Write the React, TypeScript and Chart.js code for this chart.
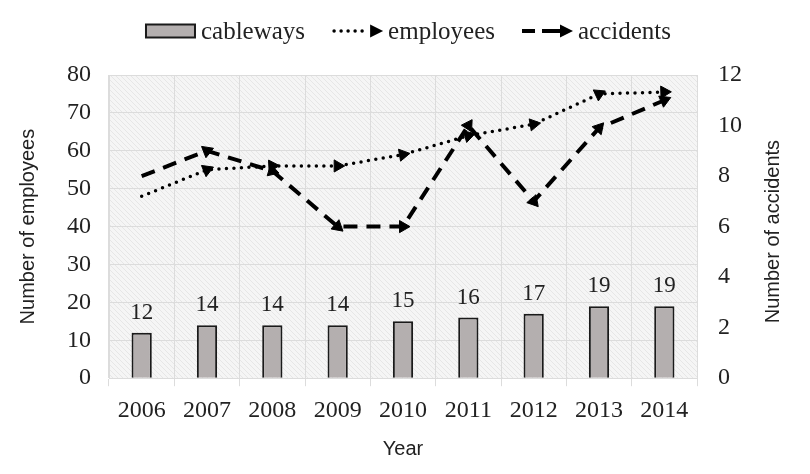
import React, { useEffect, useRef } from "react";
import { Chart, registerables } from "chart.js";

Chart.register(...registerables);

const years = ["2006", "2007", "2008", "2009", "2010", "2011", "2012", "2013", "2014"];
const cableways = [12, 14, 14, 14, 15, 16, 17, 19, 19];
const employees = [48, 55, 56, 56, 59, 64, 67, 75, 75.5];
const accidents = [8, 9, 8.2, 6, 6, 10, 7, 9.9, 11];
const legendNames = ["cableways", "employees", "accidents"];

const SERIF = "'Liberation Serif', 'Times New Roman', serif";
const SANS = "'Liberation Sans', Arial, sans-serif";

function makeHatch(): CanvasPattern | string {
  const c = document.createElement("canvas");
  c.width = 5;
  c.height = 5;
  const g = c.getContext("2d");
  if (!g) return "#f2f2f2";
  g.fillStyle = "#f5f5f5";
  g.fillRect(0, 0, 5, 5);
  g.strokeStyle = "#e6e6e6";
  g.lineWidth = 1;
  g.beginPath();
  g.moveTo(0, 0);
  g.lineTo(5, 5);
  g.moveTo(-2.5, 2.5);
  g.lineTo(2.5, 7.5);
  g.moveTo(2.5, -2.5);
  g.lineTo(7.5, 2.5);
  g.stroke();
  const p = g.createPattern(c, "repeat");
  return p || "#f2f2f2";
}

function arrowHead(g: CanvasRenderingContext2D, tipX: number, cy: number) {
  g.fillStyle = "#000";
  g.beginPath();
  g.moveTo(tipX, cy);
  g.lineTo(tipX - 13, cy - 6.5);
  g.lineTo(tipX - 13, cy + 6.5);
  g.closePath();
  g.fill();
}

function drawIcon(g: CanvasRenderingContext2D, kind: number, x: number, cy: number, w: number) {
  g.save();
  if (kind === 0) {
    g.fillStyle = "#b4afaf";
    g.fillRect(x + 1, cy - 6.5, w - 2, 13);
    g.strokeStyle = "#1a1a1a";
    g.lineWidth = 2;
    g.strokeRect(x + 1, cy - 6.5, w - 2, 13);
  } else if (kind === 1) {
    g.strokeStyle = "#000";
    g.lineWidth = 3.5;
    g.lineCap = "round";
    g.setLineDash([0, 7]);
    g.beginPath();
    g.moveTo(x + 2, cy);
    g.lineTo(x + w - 14, cy);
    g.stroke();
    g.setLineDash([]);
    arrowHead(g, x + w, cy);
  } else {
    g.strokeStyle = "#000";
    g.lineWidth = 4;
    g.beginPath();
    g.moveTo(x, cy);
    g.lineTo(x + 13, cy);
    g.moveTo(x + 20, cy);
    g.lineTo(x + w - 10, cy);
    g.stroke();
    arrowHead(g, x + w, cy);
  }
  g.restore();
}

export default function App() {
  const ref = useRef<HTMLCanvasElement>(null);

  useEffect(() => {
    document.body.style.margin = "0";
    if (!ref.current) return;
    const hatch = makeHatch();

    const rotationFn = (ctx: any) => {
      const i = ctx.dataIndex;
      const chart = ctx.chart;
      const ds = ctx.dataset;
      const xs = chart.scales.x;
      const ys = chart.scales[ds.yAxisID];
      if (!xs || !ys || i === 0) return 0;
      const x0 = xs.getPixelForValue(i - 1);
      const x1 = xs.getPixelForValue(i);
      const y0 = ys.getPixelForValue(ds.data[i - 1]);
      const y1 = ys.getPixelForValue(ds.data[i]);
      const a = Math.atan2(y1 - y0, x1 - x0);
      return (a * 180) / Math.PI + 90;
    };

    const bgPlugin = {
      id: "bgHatch",
      beforeDraw(chart: any) {
        const { ctx, chartArea } = chart;
        ctx.save();
        ctx.fillStyle = hatch;
        ctx.fillRect(chartArea.left, chartArea.top, chartArea.right - chartArea.left, chartArea.bottom - chartArea.top);
        ctx.restore();
      },
    };

    const labelPlugin = {
      id: "barLabels",
      afterDatasetsDraw(chart: any) {
        const meta = chart.getDatasetMeta(0);
        const ctx = chart.ctx;
        ctx.save();
        ctx.font = `23px ${SERIF}`;
        ctx.fillStyle = "#222";
        ctx.textAlign = "center";
        ctx.textBaseline = "alphabetic";
        meta.data.forEach((el: any, i: number) => {
          ctx.fillText(String(cableways[i]), el.x, el.y - 14);
        });
        ctx.restore();
      },
    };

    const extrasPlugin = {
      id: "extras",
      afterDraw(chart: any) {
        const ctx = chart.ctx;
        const area = chart.chartArea;
        // right axis title, reading bottom to top
        ctx.save();
        ctx.font = `20px ${SANS}`;
        ctx.fillStyle = "#222";
        ctx.textAlign = "center";
        ctx.textBaseline = "middle";
        ctx.translate(773, (area.top + area.bottom) / 2 + 5);
        ctx.rotate(-Math.PI / 2);
        ctx.fillText("Number of accidents", 0, 0);
        ctx.restore();

        // legend
        ctx.save();
        ctx.font = `25px ${SERIF}`;
        const iconW = 51;
        const gapIT = 5;
        const gapItems = 27;
        const widths = legendNames.map((t) => ctx.measureText(t).width);
        const total = widths.reduce((a, b) => a + b, 0) + 3 * (iconW + gapIT) + 2 * gapItems;
        let x = 408 - total / 2;
        const cy = 31;
        legendNames.forEach((t, i) => {
          drawIcon(ctx, i, x, cy, iconW);
          x += iconW + gapIT;
          ctx.fillStyle = "#222";
          ctx.textAlign = "left";
          ctx.textBaseline = "middle";
          ctx.fillText(t, x, cy + 1);
          x += widths[i] + gapItems;
        });
        ctx.restore();
      },
    };

    const chart = new Chart(ref.current, {
      type: "bar",
      data: {
        labels: years,
        datasets: [
          {
            type: "bar",
            label: "cableways",
            data: cableways,
            yAxisID: "y",
            backgroundColor: "#b4afaf",
            borderColor: "#1a1a1a",
            borderWidth: 2,
            barPercentage: 0.31,
            categoryPercentage: 1,
            order: 3,
          },
          {
            type: "line",
            label: "employees",
            data: employees,
            yAxisID: "y",
            borderColor: "#000",
            borderWidth: 3.5,
            borderDash: [0, 7.5],
            borderCapStyle: "round",
            pointStyle: "triangle",
            pointRadius: (c: any) => (c.dataIndex === 0 ? 0 : 7),
            pointRotation: rotationFn,
            pointBackgroundColor: "#000",
            pointBorderColor: "#000",
            pointBorderWidth: 1,
            tension: 0,
            fill: false,
            order: 2,
          } as any,
          {
            type: "line",
            label: "accidents",
            data: accidents,
            yAxisID: "y1",
            borderColor: "#000",
            borderWidth: 4,
            borderDash: [14, 9],
            pointStyle: "triangle",
            pointRadius: (c: any) => (c.dataIndex === 0 ? 0 : 7),
            pointRotation: rotationFn,
            pointBackgroundColor: "#000",
            pointBorderColor: "#000",
            pointBorderWidth: 1,
            tension: 0,
            fill: false,
            order: 1,
          } as any,
        ],
      },
      options: {
        animation: false,
        responsive: false,
        maintainAspectRatio: false,
        layout: { padding: { left: 16, right: 47, top: 75, bottom: 13 } },
        plugins: {
          tooltip: { enabled: false },
          legend: { display: false },
        },
        scales: {
          x: {
            offset: true,
            grid: { offset: true, color: "#dcdcdc", tickLength: 8, drawTicks: true },
            border: { color: "#dcdcdc" },
            ticks: { font: { family: SERIF, size: 24 }, color: "#222", padding: 10 },
            title: { display: true, text: "Year", font: { family: SANS, size: 20 }, color: "#222", padding: { top: 2, bottom: 0 } },
          },
          y: {
            position: "left",
            min: 0,
            max: 80,
            ticks: { stepSize: 10, font: { family: SERIF, size: 24 }, color: "#222", padding: 18 },
            grid: { color: "#dcdcdc", drawTicks: false },
            border: { color: "#dcdcdc" },
            title: { display: true, text: "Number of employees", font: { family: SANS, size: 20 }, color: "#222", padding: { top: 0, bottom: 9 } },
          },
          y1: {
            position: "right",
            min: 0,
            max: 12,
            ticks: { stepSize: 2, font: { family: SERIF, size: 24 }, color: "#222", padding: 21 },
            grid: { drawOnChartArea: false, drawTicks: false },
            border: { color: "#dcdcdc" },
          },
        },
      },
      plugins: [bgPlugin, labelPlugin, extrasPlugin],
    } as any);

    return () => chart.destroy();
  }, []);

  return (
    <div style={{ width: 810, height: 474, background: "#fff" }}>
      <canvas ref={ref} width={810} height={474} style={{ display: "block" }} />
    </div>
  );
}
